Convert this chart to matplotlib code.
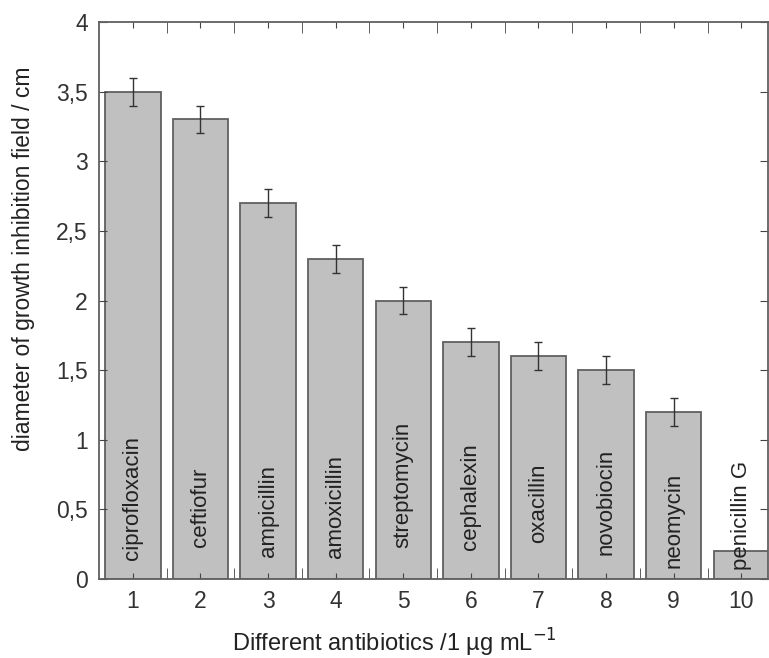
import matplotlib.pyplot as plt
import numpy as np

plt.rcParams['font.family'] = ['Liberation Sans', 'DejaVu Sans']

# data
positions = [1, 2, 3, 4, 5, 6, 7, 8, 9, 10]
antibiotics = ['ciprofloxacin', 'ceftiofur', 'ampicillin', 'amoxicillin', 'streptomycin',
               'cephalexin', 'oxacillin', 'novobiocin', 'neomycin', 'penicillin G']
diameter = [3.5, 3.3, 2.7, 2.3, 2.0, 1.7, 1.6, 1.5, 1.2, 0.2]
error = [0.1, 0.1, 0.1, 0.1, 0.1, 0.1, 0.1, 0.1, 0.1, 0.0]
yticks = [0, 0.5, 1, 1.5, 2, 2.5, 3, 3.5, 4]
ytick_labels = ['0', '0,5', '1', '1,5', '2', '2,5', '3', '3,5', '4']
# where each name starts inside its bar (the labels were placed by hand)
name_y = [0.14, 0.23, 0.16, 0.15, 0.22, 0.21, 0.26, 0.17, 0.08, 0.065]

fig = plt.figure(figsize=(7.69, 6.58), dpi=100)
ax = fig.add_axes([0.1287, 0.12, 0.8705, 0.8466])

ax.bar(positions, diameter, width=0.82, color='#c0c0c0', edgecolor='#606060', linewidth=1.3)
ax.errorbar(positions[:-1], diameter[:-1], yerr=error[:-1], fmt='none', ecolor='#333333',
            elinewidth=1, capsize=3, capthick=1)

for x, y, name in zip(positions, name_y, antibiotics):
    ax.text(x, y, name, rotation=90, ha='center', va='bottom', fontsize=16, color='#222222')

ax.set_xlim(0.5, 10.4)
ax.set_ylim(0, 4)
ax.set_xticks(positions)
ax.set_xticks(np.arange(1.5, 10.5, 1), minor=True)
ax.set_yticks(yticks)
ax.set_yticklabels(ytick_labels)

ax.tick_params(axis='both', which='major', direction='in', labelsize=16.5, labelcolor='#333333',
               color='#444444', length=4, top=True, right=True, pad=8)
ax.tick_params(axis='x', which='minor', direction='in', length=8, top=True, color='#444444')
ax.tick_params(axis='y', which='major', length=6)
for s in ax.spines.values():
    s.set_color('#606060')
    s.set_linewidth(1.3)

ax.set_xlabel('Different antibiotics /1 µg mL$^{-1}$', fontsize=17, color='#222222')
ax.set_ylabel('diameter of growth inhibition field / cm', fontsize=16.5, color='#222222')
ax.xaxis.set_label_coords(0.442, -0.085)
ax.yaxis.set_label_coords(-0.096, 0.575)

plt.savefig('out.png', dpi=100)
